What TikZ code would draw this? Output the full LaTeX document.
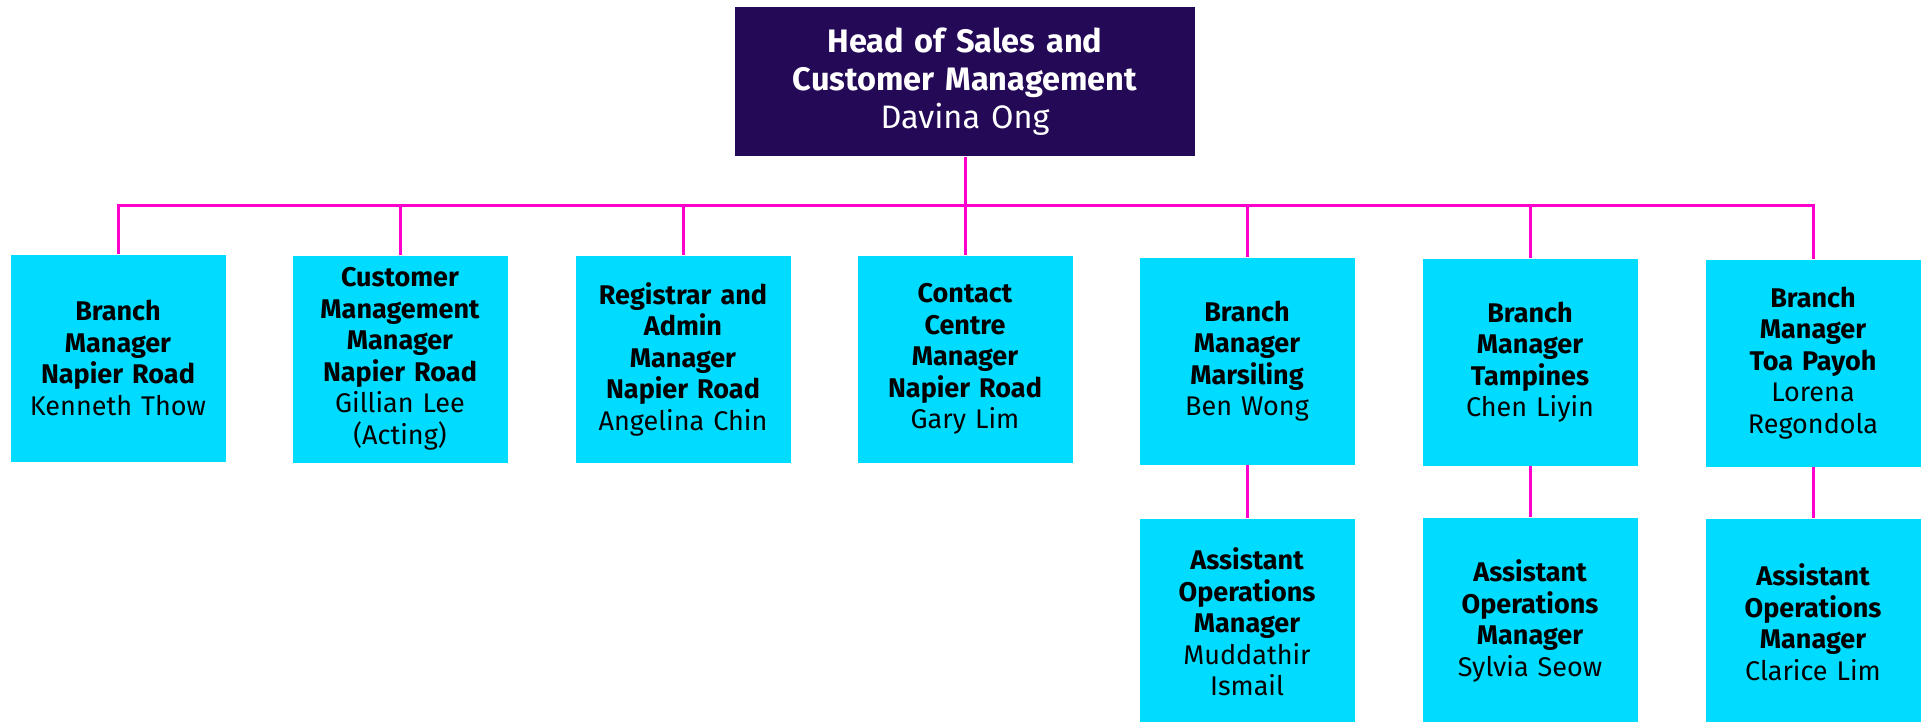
\documentclass[tikz,border=0pt]{standalone}
\usepackage{fontspec}
\setmainfont{Fira Sans}
\definecolor{headpurple}{RGB}{36,9,87}
\definecolor{roleblue}{RGB}{0,220,255}
\definecolor{linkpink}{RGB}{255,0,204}

\begin{document}
\begin{tikzpicture}[x=1pt,y=-1pt,
  role/.style={fill=roleblue,minimum width=215pt,minimum height=207pt,text width=213pt,align=center,inner sep=0pt,font=\fontsize{27}{31.5}\selectfont},
  head/.style={fill=headpurple,text=white,minimum width=460pt,minimum height=149pt,text width=450pt,align=center,inner sep=0pt,font=\fontsize{32.5}{38}\selectfont},
  link/.style={draw=linkpink,line width=3pt}]

\clip (0,0) rectangle (1925,722);

\node[head] (head) at (965,82) {{\bfseries Head of Sales and\\Customer Management}\\Davina Ong};

\node[role] (b1) at (118,358) {{\bfseries Branch\\Manager\\Napier Road}\\Kenneth Thow};
\node[role] (b2) at (400,359) {{\bfseries Customer\\Management\\Manager\\Napier Road}\\Gillian Lee\\(Acting)};
\node[role] (b3) at (683,359) {{\bfseries Registrar and\\Admin\\Manager\\Napier Road}\\Angelina Chin};
\node[role] (b4) at (965,359) {{\bfseries Contact\\Centre\\Manager\\Napier Road}\\Gary Lim};
\node[role] (b5) at (1247,361) {{\bfseries Branch\\Manager\\Marsiling}\\Ben Wong};
\node[role] (b6) at (1530,362) {{\bfseries Branch\\Manager\\Tampines}\\Chen Liyin};
\node[role] (b7) at (1813,363) {{\bfseries Branch\\Manager\\Toa Payoh}\\Lorena\\Regondola};

\node[role] (a5) at (1247,622) {{\bfseries Assistant\\Operations\\Manager}\\Muddathir\\Ismail};
\node[role] (a6) at (1530,621) {{\bfseries Assistant\\Operations\\Manager}\\Sylvia Seow};
\node[role] (a7) at (1813,622) {{\bfseries Assistant\\Operations\\Manager}\\Clarice Lim};

\coordinate (bus) at (965,206);

\draw[link] (head) -- (bus);
\draw[link] (bus) -| (b1);
\draw[link] (bus) -| (b2);
\draw[link] (bus) -| (b3);
\draw[link] (bus) -- (b4);
\draw[link] (bus) -| (b5);
\draw[link] (bus) -| (b6);
\draw[link] (bus) -| (b7);

\draw[link] (b5) -- (a5);
\draw[link] (b6) -- (a6);
\draw[link] (b7) -- (a7);

\end{tikzpicture}
\end{document}
